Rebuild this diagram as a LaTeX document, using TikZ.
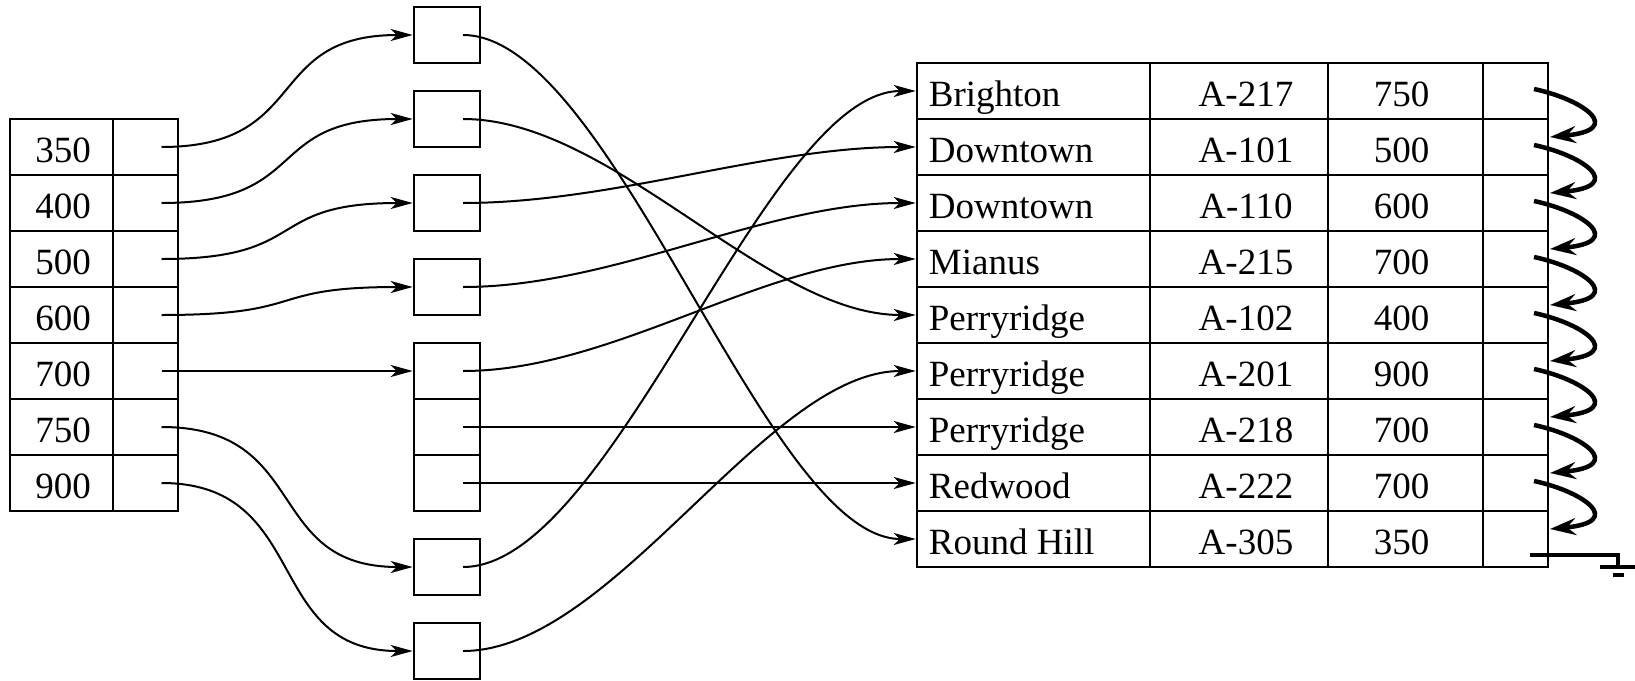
\documentclass[tikz,border=0pt]{standalone}
\usepackage{fontspec}
\setmainfont{Liberation Serif}
\usetikzlibrary{arrows.meta,calc}
\begin{document}
\begin{tikzpicture}[x=1pt,y=-1pt,
  cell/.style={draw,line width=2.6pt,inner sep=0pt,minimum height=56pt},
  txt/.style={inner sep=0pt,font=\fontsize{37}{40}\selectfont},
  ptr/.style={line width=2pt,-{Stealth[length=22pt,width=12pt,inset=6pt]}},
  link/.style={line width=4.5pt,-{Stealth[length=26pt,width=17pt,inset=9pt]}},
  gnd/.style={line width=4.5pt},
]
\useasboundingbox (0,0) rectangle (1635,680);

% index: search-key column and pointer column
\foreach \v [count=\i] in {350,400,500,600,700,750,900} {
  \node[cell,minimum width=103pt] (key\i) at (61.5,{147+56*(\i-1)}) {};
  \node[cell,minimum width=65pt]  (kp\i)  at (145.5,{147+56*(\i-1)}) {};
  \node[txt,anchor=base] (kt\i) at ($(key\i.center)+(1.5,15.5)$) {\v};
}

% buckets of record pointers
\foreach \y/\n in {35/b1,119/b2,203/b3,287/b4,371/b5a,427/b5b,483/b5c,567/b6,651/b7}
  \node[cell,minimum width=66pt] (\n) at (447,\y) {};

% account file
\foreach \nm/\ac/\bal [count=\i] in {Brighton/A-217/750, Downtown/A-101/500,
    Downtown/A-110/600, Mianus/A-215/700, Perryridge/A-102/400,
    Perryridge/A-201/900, Perryridge/A-218/700, Redwood/A-222/700,
    Round Hill/A-305/350} {
  \node[cell,minimum width=233pt] (rn\i) at (1033.5,{91+56*(\i-1)}) {};
  \node[cell,minimum width=178pt] (ra\i) at (1239,{91+56*(\i-1)}) {};
  \node[cell,minimum width=155pt] (rb\i) at (1405.5,{91+56*(\i-1)}) {};
  \node[cell,minimum width=65pt]  (rp\i) at (1515.5,{91+56*(\i-1)}) {};
  \node[txt,anchor=base west] (tn\i) at ($(rn\i.west)+(13,15)$) {\nm};
  \node[txt,anchor=base] (ta\i) at ($(ra\i.center)+(7,15)$) {\ac};
  \node[txt,anchor=base] (tb\i) at ($(rb\i.center)+(-4,15)$) {\bal};
}

% index pointers into the buckets
\foreach \k/\b in {1/b1,2/b2,3/b3,4/b4,5/b5a,6/b6,7/b7}
  \draw[ptr] ($(kp\k.center)+(16,0)$) .. controls +(150,0) and +(-150,0) .. (\b.west);

% bucket pointers into the file
\foreach \b/\r in {b1/9,b2/5,b3/2,b4/3,b5a/4,b5b/7,b5c/8,b6/1,b7/6}
  \draw[ptr] ($(\b.center)+(16,0)$) .. controls +(150,0) and +(-150,0) .. (rn\r.west);

% chain of next-record pointers
\foreach \k [evaluate=\k as \kk using int(\k+1)] in {1,...,8}
  \draw[link] ($(rp\k.center)+(18.5,-2)$) .. controls +(51,11) and +(75,-7)
    .. ($(rp\kk.center)+(34.5,-10)$);

% null pointer of the last record
\coordinate (gndpt) at ($(rp9.center)+(102.5,28)$);
\draw[gnd] ($(rp9.center)+(14.5,16)$) -| (gndpt);
\draw[gnd] ($(gndpt)+(-18,0)$) -- ($(gndpt)+(17,0)$);
\draw[gnd] ($(gndpt)+(-5,8)$) -- ($(gndpt)+(6,8)$);
\end{tikzpicture}
\end{document}
